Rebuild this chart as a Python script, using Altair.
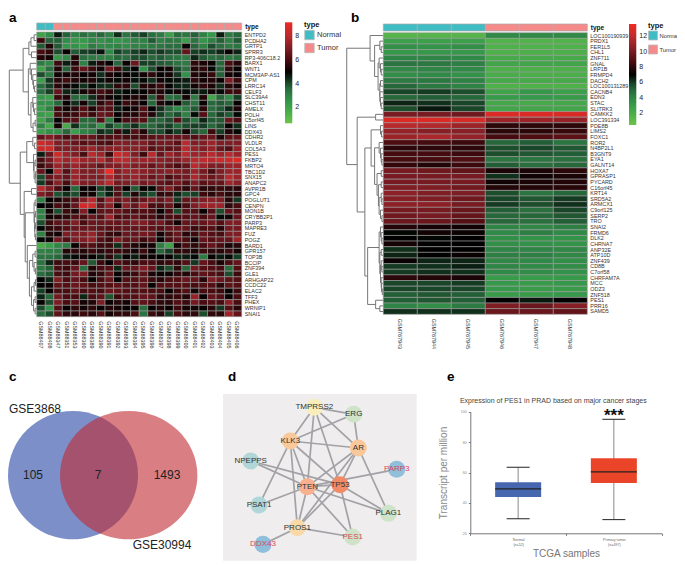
import altair as alt
import pandas as pd

W, H = 669, 553
FONT = "Liberation Sans"
HEAT_FRACTIONS = [0, 0.2, 0.44, 0.67, 0.84, 1]
HEAT_GREENS = ["#6fc34a", "#4db04a", "#33964a", "#2a6f3f", "#163f24", "#000000"]
HEAT_REDS = ["#4a0c10", "#7f1d24", "#b82a2e", "#ee2b24"]
RED_FRACTIONS = [0.26, 0.49, 0.72, 1]

# ---------- panel a ----------
genes_a = ["ENTPD2","PCDHA2","GRTP1","SPRR3","RP3-406C18.2","BARX1","WNT1","MCM3AP-AS1","CPM","LRRC14","CELF3","SLC39A4","CHST11","AMELX","POLH","C5orf45","LINS","DDX43","CDHR2","VLDLR","COL5A3","PES1","FKBP2","MRTO4","TBC1D2","SNX15","ANAPC2","AVPR1B","GPC4","POGLUT1","CENPN","MON1B","CRYBB2P1","PARP3","MAPRE3","FUZ","POGZ","BARD1","GPR157","TOP3B","BCCIP","ZNF394","GLE1","ARHGAP22","CCDC22","ELAC2","TFF3","PHEX","WRNIP1","SNAI1"]
samples_a = ["GSM88407","GSM88408","GSM88347","GSM88351","GSM88353","GSM88360","GSM88389","GSM88390","GSM88391","GSM88392","GSM88393","GSM88394","GSM88395","GSM88396","GSM88397","GSM88398","GSM88399","GSM88400","GSM88401","GSM88402","GSM88403","GSM88404","GSM88405","GSM88406"]
types_a = ["Normal"]*2 + ["Tumor"]*22
values_a = [
[2,2.7,4.6,3.7,3,3.5,3.2,3.6,3,4.4,3.4,3.8,4.2,3.5,3.2,2.2,3.5,3.3,3.7,3,2.4,4.6,3.2,3.6],
[5.8,3.7,3.7,2.7,2.4,2.4,2.8,2.6,2.8,2.5,2.6,3,3,3.8,3,3.3,3.2,2.2,3.4,2.5,3,3.7,3,3.8],
[3.8,5.4,3.8,2.5,2.6,2.2,3.2,2.8,2.8,3,2.7,3,3,3.2,3.3,3.5,3.5,5,3.6,3,4,3.5,3.2,3.4],
[6,5.6,4,5,3.8,4.2,4.3,4.7,2.8,4.2,3.8,4.2,4.5,4,4.3,4,4,6.5,4.2,4.4,4.2,4.5,5,4.5],
[5.4,5.2,2.4,2.8,5.4,3.5,3.2,3,3,3.6,3.5,4,4,3.6,3.8,3.5,3.3,3.2,4.5,3.8,3.5,3.6,3.2,3.5],
[3.2,2.8,5.8,4.6,5.4,3,4.6,5.4,4.9,3.6,5,6.6,4.2,4.2,3.8,3.7,3.4,3.2,5.6,5.3,5,3.6,6,5.4],
[2,3.5,5.4,3.7,5.8,6.5,5.8,5.2,6.8,5.8,4.5,4.9,2.6,4,5,5.2,4,3.5,5.4,5.6,4.8,3.7,5.6,5],
[4,3.2,5.2,5.2,5.4,5,5.2,4.4,5.3,5,5,4.8,5.2,5.6,5,5.2,4.3,2.6,5.4,5.2,5.7,3.7,5.2,5],
[2.2,4.3,5.5,5.9,5.4,5.2,5.4,4.7,5.2,4.8,5.2,4.7,4.8,4.4,5.2,4.8,4.7,4.6,5.6,5.2,5.4,5,7,5.8],
[3.5,4.2,5.5,5.2,4.8,4.4,4.8,4.4,4.4,5.6,5.6,4,5.4,5.4,5.8,5,4.5,4.5,5.2,5.6,5.3,4.4,5.5,5.2],
[3.5,4.2,6.5,4.5,4.6,5.2,5.5,6,5.6,4.6,4.8,4.8,4.9,5.4,5.4,4.8,5.2,4.8,4.6,4.6,5.2,4.8,5.8,5.8],
[2.4,2.2,5.8,5.4,3.6,3.5,4.4,5.6,5.2,4.8,5.2,5.4,5.2,3.8,5.8,3.5,3.6,5.2,3.2,5.4,1.9,3.6,2.7,4.2],
[2.6,2.6,3.6,5,4.4,5.2,4.2,5.6,6.2,4.8,5.8,5.5,5,3.6,5.4,4.8,5,3.8,3.4,5,3.6,3.8,3.6,5],
[2.2,3,5.8,5.2,5.6,6.2,5.4,6.2,6.2,4.6,5,5.2,6.2,4.9,4.4,3.6,2.8,3.2,3.8,5.5,3.5,3.8,4.5,5.3],
[2.3,2,6,5.6,5.8,6.3,5.8,6.6,6.4,5,5.4,5.4,6,5.4,4.2,3.6,4,3,4.8,6.2,3.6,4.2,3.8,4.8],
[2,3.2,5,6.2,6.2,3.6,3.6,6.2,3.2,5,6,6.2,6.2,3.8,3.6,4,6.2,4,3.4,4.5,3.8,3.8,6.6,6],
[3,1.8,5.2,1.7,4.4,3.3,3.6,2.4,4.2,3.4,3.8,4.4,3.6,3.6,4,4.2,3.6,4,4.2,4.2,3.6,4,5,4.4],
[2.2,2.6,2.6,3.6,2.2,3,3.2,4.4,4.2,5.8,4.6,6.2,5.4,4,4,4.6,4.2,5.2,4,3.6,5.8,4.2,5.4,4.8],
[6.5,7,6.6,6,6.5,6.5,6.5,6,6.1,6.3,6,6,6,6.3,6.5,6.5,6.5,6.5,6.2,6.5,6.6,5.4,6.4,6.5],
[8.5,8,7,7,6.5,6.2,6.5,6.2,6,7,7,7,7,6.5,6.8,6.8,6.3,8,7,7,7.5,7,7,7],
[8.5,8.5,7,7,7,7,7.5,7,7.2,7.2,7.2,7.2,7,6.2,6.6,6.4,6.6,8,7.4,7,7.4,6.6,6.2,7.4],
[4.6,6.6,8.5,7.5,7,6,8,7.5,5.8,8.5,8,7,5.8,8,6.5,7.5,7,8,7.5,7.5,8,7.5,8,7.5],
[6,6.8,8,7.5,8,7.5,7.5,8,7,8,8,7.5,7.5,7.5,7.2,7,7,7.5,8,8.2,8,8.4,8.5,8.8],
[5.8,6.4,7.5,7,7.5,7,7,6.5,7,7,7.5,7,7,6.5,7,6.5,6,6.5,8,7.5,7,7,7.5,7.5],
[6.5,4.9,7.8,6.2,7.5,7,7,7.5,9.2,7,7.5,7.5,7.2,7,7,7.2,7,6.8,7.5,6.8,6,7,7.5,7.5],
[4,6.5,7,6.5,7.5,7,7,7,7.8,7,7.2,7.5,7,6.5,7,6,6.5,6.8,7.8,7,6.6,7,8,7.5],
[4.3,6,7.2,6,7.5,7,7,7.5,8,6.8,7,7.2,6.8,7,6.5,6.2,6.8,6.2,7,6.3,6.5,6.5,7.6,7.2],
[8,7,6,5,3.6,5,5,4.2,4.6,6.2,5,3.8,5,4.8,6.4,7,6,5.6,6.5,5.5,5.6,5.8,5.6,5.5],
[7,6.5,3.9,4.4,4,5.2,5.2,3.8,4.6,6.2,4.2,5.4,4.4,4,5.6,5.8,4.5,4,4.2,5.8,5.5,6,5.5,5.5],
[3,5,5.3,5.8,6.2,7,8,6.2,7.5,6.5,7,6.2,6.5,7,6.5,7,4.3,6.5,6.8,7,7.2,7,5.5,4.3],
[4.9,5.1,6,5.6,6.5,8.5,8.5,6.5,7.2,5.2,7.2,6.5,7.5,6,6,6.5,5.2,6,7,7.5,7.5,7.5,5.6,6],
[3,5.2,4,5.8,5.4,7,5,6.4,6.5,6.5,6.2,6,6.2,6,5,6,4,6.2,6.2,5,6.2,4,6.5,6.2],
[3,5.2,5.4,5.6,6.2,6,6.6,6.2,7.5,6,6.2,6.5,6,6,5.5,6,6,6.2,6.5,6,6.5,4.8,5.2,6.5],
[4,5.8,6.4,6.4,7,6,6.6,6.6,6.6,6.5,6.6,7,7,6.5,6.8,6,5.2,6.5,6.5,6.5,6.8,6.2,7,7],
[4.8,5.6,5.8,6.2,6.6,6.5,6.6,6.4,6.2,6.4,6.5,6.5,6.5,6.4,6.2,6.5,6.5,6.5,5.8,6,6.2,5.5,6.8,6.8],
[3,5.4,5.2,7,7,7,7.4,6.5,5.8,5.6,6.6,6.5,6.8,6.6,5.2,6,6.6,5.5,5.8,6.5,6.2,6,7,7],
[4.8,5,6.8,6.2,7,7,7.4,6.2,5.8,7,6.4,6.5,5.8,6.2,5,6,6.4,6,5.2,6.5,6.2,6.5,6.5,7.5],
[1.6,2.2,2.9,3.2,5,6.2,6.2,5.8,5.8,4.4,6,5.4,5.2,5.2,3.2,2,5.2,6,5.6,6,6.5,6,5.3,5.5],
[3,3.1,3.2,5.4,5.6,5.4,5.8,5.5,5.7,5.8,5.6,5.2,5.8,5,3.6,4.2,5.6,5.6,5.3,5.8,5.6,5.5,5.8,5.2],
[3.4,3.4,3.6,4.6,4.8,5.2,5,4.6,5.6,4.3,5,4.6,5.2,5,4.9,5,4.5,4.6,4.8,3.2,5,4.6,4.8,4.2],
[3.4,4.5,5.8,6,5.8,6.5,3.8,5.8,5,6.2,5.8,5.6,6,6,5.6,5.8,5.6,6.2,4.3,6.5,6,5.3,6,6.5],
[3.2,3.7,6,5.8,6.5,3.5,5.4,6,6.2,4.5,6.5,6.5,7,6.5,4.5,4,5.6,3.6,6.8,6.2,6.2,6,3.5,6.2],
[3.5,3.8,6,5.8,6.8,7,5.4,5.7,6.5,5,5.5,5.8,6.4,5.3,5,5.1,5.6,5.4,6,6.4,6.2,6,4,5.8],
[4.9,4.5,7,6,6.5,6,5,6,6.6,4.9,6.2,6.2,6.4,5.8,5.5,6,6.2,6.6,6.5,5.5,7,6.6,6.4,6.2],
[4.9,5,6.4,6.2,6.6,6.4,6,6.2,6.2,6.4,6.2,6.2,6.5,5,6.2,6.2,6.2,6.2,6,6.2,6.2,5.5,6.4,6.2],
[4.2,5,6,6,6.4,6,6.2,6,6.6,6.4,6.2,6.2,6.2,6,6,5,5.8,6.2,5.2,6,6,5.8,5,5.8],
[4.5,3.6,6.8,6,6,4.5,6,6.4,3.9,5.8,6.2,6.2,6.5,6.4,5.6,5.6,5.8,5.4,7.4,5,6.5,6.2,5,6],
[5,4,7,6,6.2,5.2,5.4,7,5,5.5,5.2,6.2,6.4,6,5.6,5.5,6.2,5.8,6.8,6,6.2,6,7.2,6],
[4,2.6,6.2,5,5.6,5.2,5.6,5,5.4,5.2,5,5,3.5,5,5.4,5,5.8,5.2,5.2,5,5.5,4.3,6.2,5.5],
[3.5,4,6.4,5.6,5.5,5.8,5.5,6.2,5.2,5.6,5.6,6,3.4,5.8,5.5,4.2,6,5.6,5.6,4,5.6,5.5,7.5,6.5],
]
tree_a = [105,
  [52,
    [30,[22,[10,0,1],2],[20,3,4]],
    [32,[25,5,[20,6,[15,7,[12,8,[8,9,10]]]]],
        [22,[15,11,[12,12,[8,13,14]]],[14,[6,15,16],17]]]],
  [63,
    [38,[15,18,[8,19,20]],[12,21,[10,[6,22,23],[6,[4,24,25],26]]]],
    [48,[20,27,28],
        [44,[10,[6,29,30],[8,[5,31,32],[7,[4,33,34],[5,35,36]]]],
            [36,37,[28,[15,[6,38,39],[10,40,[5,41,42]]],
                       [20,[10,[5,43,44],45],[12,[6,46,47],[6,48,49]]]]]]]]]

# ---------- panel b ----------
genes_b = ["LOC100190939","PRDX1","FER1L5","CHL1","ZNF711","GNAL","LRP1B","FRMPD4","DACH2","LOC100131289","CACNB4","EDN3","STAC","SLITRK3","CAMKK2","LOC391334","PDE8B","LIMS2","FOXC1","ROR2","N4BP2L1","B3GNT9","EYA1","GALNT14","HOXA7","GPRASP1","PYCARD","C16orf45","KRT14","SRD5A2","ARMCX1","C9orf125","SERP2","TRO","SNAI2","FRMD6","DLK2","CHRNA7","ANP32E","ATP10D","ZNF439","CD8B","C7orf58","CHRFAM7A","MCC","ODZ3","ZNF518","PES1","PRR16","SAMD5"]
samples_b = ["GSM767943","GSM767944","GSM767945","GSM767946","GSM767947","GSM767948"]
types_b = ["Normal"]*3 + ["Tumor"]*3
values_b = [
[1.5,1.5,1.5,3.8,3.8,3.8],[2.8,2.8,2.8,1.6,1.6,1.6],[3.6,3.4,3.6,1.7,1.7,1.7],[3.2,3.2,3.2,1.7,1.8,1.8],
[4,4,3.8,2.2,2.2,2.2],[4.6,4.5,4.2,2.4,2.4,2.4],[3.9,4,3.8,1.8,1.8,1.8],[3.6,3.8,3.5,2,1.9,1.9],
[4.4,4.5,4.1,2.1,2.1,2.1],[5,4.5,4.1,1.7,1.7,1.7],[5.8,6,5.6,2.5,3.2,2.8],[5,5.2,5,3,3.2,3],
[6.4,6.2,5.8,2.3,2.2,2.3],[5.6,6.6,5.8,2.4,2.4,2.4],[10,10,9.8,13,13,12.8],[13,13,12.8,11,11,10.8],
[11.8,11.6,11,8,8,8],[10.8,10.5,10.5,8,8,8.3],[11,11.4,10.8,8.6,8.8,9.2],[8.8,8.6,8.4,5,5.2,4.6],
[8,8,8,5.6,5.8,5.4],[8.6,8.6,8.4,5.6,5.4,5.2],[8.6,8.6,8.8,4.6,4.6,4.8],[8.2,7.8,8.4,5.2,4.8,5],
[10,9.8,9.4,7.6,7.6,8],[10,10,10,6.2,7.4,7.6],[10,10,10,7.4,7.6,7.8],[10.2,10.2,9.8,7.8,7.8,7.9],
[10.6,10.3,10.2,5.6,4.6,5],[10.4,10.2,9.8,5.8,5.4,6],[10.6,10.6,10,6,5.6,6.2],[10,10,9.6,5.2,4.8,5.8],
[9.8,10,9.5,5,5,5.4],[9.6,9.6,9,5,4.8,5.2],[7.8,7.5,7.4,4,3.9,4.2],[6.9,7.4,7.2,3.8,4.2,3.8],
[7,6.9,7,3.6,3.4,3.4],[7.5,7,7,3.6,3.5,3.4],[6.2,7,7,4,4,3.9],[6.4,7,7.2,4.2,4.2,3.9],
[7.2,6.4,6.4,3.9,3.8,3.6],[6,6.2,6.5,4,3.8,3.7],[6,6.2,6.2,3.8,3.7,3.5],[8,7.8,7.6,3,3,3.1],
[5.8,5.8,6,3.2,3,3.2],[5.8,5.8,5.8,3.2,3,3],[5.2,5.4,5.2,3,3,3.2],[5.2,5.4,5.2,7,6.6,7],
[4,3.6,4.4,10.2,9.6,10.4],[6.2,6.2,6.2,9.6,9.6,9.4],
]
tree_b = [105,
  [38,0,[25,[10,1,[6,2,3]],[15,[12,4,[8,5,[6,6,7]]],[10,[8,8,9],[10,10,[8,11,[6,12,13]]]]]]],
  [75,[22,14,15],
    [53,
      [35,[8,16,[5,17,18]],
          [25,[12,19,[8,20,[6,21,[4,22,23]]]],
              [18,[6,24,25],[14,[6,26,27],[12,[6,28,[4,29,30]],[8,31,[4,32,33]]]]]]],
      [45,[12,[8,34,[6,35,[4,36,37]]],
              [10,[6,38,39],[8,[6,40,[4,41,42]],[6,43,[5,44,[3,45,46]]]]]],
          [22,47,[10,48,49]]]]]]

# ---------- panel c ----------
venn_sets = ["GSE3868","GSE30994"]
venn_cx = [73,128.7]
venn_colors = ["#4460b0","#c02a30"]
venn_sizes = [130.0,137.3]
venn_shapes = ["M-1,0A1,0.987,0,1,1,1,0A1,0.987,0,1,1,-1,0Z","M-1,0A1,0.934,0,1,1,1,0A1,0.934,0,1,1,-1,0Z"]
venn_opacity = [0.7,0.6]
venn_text = ["GSE3868","105","7","1493","GSE30994"]
venn_text_x = [35,33,98,167,162]
venn_text_y = [48.5,115,114.5,115,185]

# ---------- panel d ----------
node_names = ["TMPRSS2","ERG","KLK3","AR","NPEPPS","PARP3","PTEN","TP53","PSAT1","PLAG1","PROS1","PES1","DDX43"]
node_x = [298,416,226,430,107,545,277,375,132,520,247,413,144]
node_y = [112,133,213,234,273,298,350,344,405,430,473,501,523]
node_colors = ["#f9eebb","#cfe3c8","#f9c999","#f9c89a","#b0d6d8","#90bfdc","#f8b08e","#f38a66","#b0d6d8","#cfe3c8","#f9d9a8","#cfe3c8","#90bfdc"]
node_text = ["#333333","#333333","#333333","#333333","#333333","#d9455f","#333333","#333333","#333333","#333333","#333333","#d9455f","#d9455f"]
edges = [("TMPRSS2","ERG"),("TMPRSS2","KLK3"),("TMPRSS2","AR"),("TMPRSS2","PTEN"),("TMPRSS2","TP53"),
 ("ERG","KLK3"),("ERG","AR"),("KLK3","AR"),("KLK3","PTEN"),("KLK3","TP53"),("KLK3","PROS1"),("KLK3","PSAT1"),
 ("AR","PTEN"),("AR","TP53"),("AR","PROS1"),("AR","PLAG1"),("NPEPPS","PTEN"),("NPEPPS","TP53"),("PARP3","PTEN"),
 ("PTEN","TP53"),("PTEN","PSAT1"),("PTEN","PROS1"),("PTEN","PLAG1"),("PTEN","PES1"),("TP53","PLAG1"),("TP53","PES1"),
 ("TP53","PROS1"),("PROS1","PES1"),("PROS1","DDX43")]

# ---------- panel e ----------
box_cat = ["Normal|(n=52)","Primary tumor|(n=497)"]
box_low = [29.6,29]
box_q1 = [43.9,53.1]
box_med = [49.2,60.4]
box_q3 = [53.6,69.3]
box_high = [63.4,95]
box_col = ["#4766b0","#ea4528"]

panel_letters = ["a","b","c","d","e"]
letter_x = [9,351,9,228,447]
letter_y = [22,22,381,381,381]

def X(a, b, domain, **kw):
    return alt.Scale(domain=domain, range=[a-8, b-8], **kw)

def tree_frame(tree):
    rows = []
    def walk(n):
        if isinstance(n, int):
            return n+0.5, 0
        h, a, b = n
        ya, ha = walk(a)
        yb, hb = walk(b)
        rows.append(dict(x=h, x2=h, y=ya, y2=yb))
        rows.append(dict(x=ha, x2=h, y=ya, y2=ya))
        rows.append(dict(x=hb, x2=h, y=yb, y2=yb))
        return (ya+yb)/2, h
    walk(tree)
    return pd.DataFrame(rows)

def heat_scale(lo, mid, hi):
    dom = [lo+(mid-lo)*f for f in HEAT_FRACTIONS] + [mid+(hi-mid)*f for f in RED_FRACTIONS]
    return alt.Scale(domain=dom, range=HEAT_GREENS+HEAT_REDS, interpolate="rgb")

def heat_panel(genes, samples, types, values, tree, xa, xb, ya, yb, ann0, ann1, dend_left,
               cdom, lgx, lgy, lglen, lgvals, tpx, tpy, tsym, tfont, toff):
    for r in values:
        assert len(r) == len(samples), (len(r), r)
    assert len(genes) == len(values)
    long = pd.DataFrame([dict(gene=g, sample=s, v=v) for g, row in zip(genes, values)
                         for s, v in zip(samples, row)])
    xs = lambda: X(xa, xb, samples, paddingInner=0, paddingOuter=0)
    ys = X(ya, yb, genes, paddingInner=0, paddingOuter=0)
    heat = alt.Chart(long).mark_rect(stroke="#9a9a9a", strokeWidth=0.6).encode(
        x=alt.X("sample:N", sort=None, scale=xs(),
                axis=alt.Axis(title=None, orient="bottom", offset=-(H-(yb-8))+1, labelAngle=90, labelAlign="left",
                              labelBaseline="middle", labelFontSize=5.4, labelColor="#333", ticks=False, domain=False,
                              labelPadding=3, labelOverlap=False, grid=False)),
        y=alt.Y("gene:N", sort=None, scale=ys,
                axis=alt.Axis(title=None, orient="right", offset=-(W-(xb-8))+1, labelFontSize=5.4, labelColor="#333",
                              ticks=False, domain=False, labelPadding=1.5, labelOverlap=False, grid=False)),
        color=alt.Color("v:Q", scale=heat_scale(*cdom),
                        legend=alt.Legend(title=None, orient="none", legendX=lgx-8, legendY=lgy-8, gradientLength=lglen,
                                          gradientThickness=7.3, values=lgvals, labelFontSize=7, labelColor="#222",
                                          gradientStrokeWidth=0, tickCount=len(lgvals), labelOffset=3)),
    )
    ann = pd.DataFrame(dict(sample=samples, type=types, row=["type"]*len(samples)))
    annot = alt.Chart(ann).mark_rect(stroke="#aaaaaa", strokeWidth=0.7).encode(
        x=alt.X("sample:N", sort=None, scale=xs(), axis=None),
        y=alt.Y("row:N", scale=X(ann0, ann1, ["type"], paddingInner=0, paddingOuter=0),
                axis=alt.Axis(title=None, orient="right", offset=-(W-(xb-8))+1, labelFontSize=6.5, labelFontWeight="bold",
                              labelColor="#111", ticks=False, domain=False, labelPadding=2, grid=False)),
        color=alt.Color("type:N", scale=alt.Scale(domain=["Normal","Tumor"], range=["#3fbcc4","#f58a8a"]),
                        legend=alt.Legend(title="type", orient="none", legendX=tpx-8, legendY=tpy-8, symbolType="square",
                                          symbolSize=tsym, symbolStrokeColor="#bbbbbb", symbolStrokeWidth=0.8,
                                          titleFontSize=7.5, titleFontWeight="bold", titleColor="#111", labelFontSize=tfont,
                                          labelColor="#333", rowPadding=0, titlePadding=1, labelOffset=toff, padding=0)),
    )
    seg = tree_frame(tree)
    dend = alt.Chart(seg).mark_rule(color="#777777", strokeWidth=1).encode(
        x=alt.X("x:Q", scale=X(xa, dend_left, [0, 110]), axis=None),
        x2="x2:Q",
        y=alt.Y("y:Q", scale=X(ya, yb, [0, len(genes)]), axis=None),
        y2="y2:Q",
    )
    return [dend, heat, annot]

layers = []
layers += heat_panel(genes_a, samples_a, types_a, values_a, tree_a, 36.7, 241.7, 32, 316.7, 23, 30, 8,
                     [0.63, 4.9, 9.2], 285, 22.3, 101, [2,4,6,8], 304, 21, 90, 7.5, 2)
layers += heat_panel(genes_b, samples_b, types_b, values_b, tree_b, 383.3, 587.3, 32.7, 314.3, 24, 31, 345,
                     [0.44, 7, 13.6], 629, 24, 101, [2,4,6,8,10,12], 648, 22, 81, 5.8, 1.5)

# panel c
sx = X(0, 198, [0, 198])
sy = X(360, 560, [0, 200])
venn = pd.DataFrame(dict(name=venn_sets, cx=venn_cx, cy=[115.2, 115.2], color=venn_colors))
for i in range(2):
    layers.append(alt.Chart(venn.iloc[[i]]).mark_point(shape=venn_shapes[i], size=venn_sizes[i]**2, filled=True,
                                                      opacity=venn_opacity[i], color=venn_colors[i]).encode(
        x=alt.X("cx:Q", scale=sx, axis=None), y=alt.Y("cy:Q", scale=sy, axis=None)))
vt = pd.DataFrame(dict(t=venn_text, x=venn_text_x, y=venn_text_y))
layers.append(alt.Chart(vt).mark_text(fontSize=12, color="#222222").encode(
    x=alt.X("x:Q", scale=sx, axis=None), y=alt.Y("y:Q", scale=sy, axis=None), text="t:N"))

# panel d
dx = X(223, 416.7, [24, 605])
dy = X(394, 560.7, [72, 572])
bg = pd.DataFrame(dict(x=[24], x2=[605], y=[72], y2=[572]))
layers.append(alt.Chart(bg).mark_rect(color="#efedee").encode(
    x=alt.X("x:Q", scale=dx, axis=None), x2="x2:Q", y=alt.Y("y:Q", scale=dy, axis=None), y2="y2:Q"))
pos = {n: (a, b) for n, a, b in zip(node_names, node_x, node_y)}
edf = pd.DataFrame([dict(x=pos[a][0], y=pos[a][1], x2=pos[b][0], y2=pos[b][1]) for a, b in edges])
layers.append(alt.Chart(edf).mark_rule(color="#a2a2a6", strokeWidth=1.7).encode(
    x=alt.X("x:Q", scale=dx, axis=None), x2="x2:Q", y=alt.Y("y:Q", scale=dy, axis=None), y2="y2:Q"))
ndf = pd.DataFrame(dict(name=node_names, x=node_x, y=node_y, fill=node_colors, txt=node_text))
layers.append(alt.Chart(ndf).mark_point(filled=True, size=290, opacity=1).encode(
    x=alt.X("x:Q", scale=dx, axis=None), y=alt.Y("y:Q", scale=dy, axis=None),
    color=alt.Color("fill:N", scale=None)))
layers.append(alt.Chart(ndf).mark_text(fontSize=8).encode(
    x=alt.X("x:Q", scale=dx, axis=None), y=alt.Y("y:Q", scale=dy, axis=None),
    text="name:N", color=alt.Color("txt:N", scale=None)))

# panel e
box = pd.DataFrame(dict(cat=box_cat, low=box_low, q1=box_q1, med=box_med, q3=box_q3, high=box_high, col=box_col))
bx = lambda: X(470.3, 661.7, box_cat, paddingInner=0, paddingOuter=0)
by = lambda: X(533.3, 411.7, [20, 100])
bxn = lambda: alt.X("cat:N", sort=None, scale=bx(), axis=None)
layers.append(alt.Chart(box).mark_rule(color="#8a8a8a", strokeWidth=1).encode(
    x=bxn(), y=alt.Y("low:Q", scale=by(), axis=None), y2="high:Q"))
layers.append(alt.Chart(box).mark_bar(size=46).encode(
    x=alt.X("cat:N", sort=None, scale=bx(),
            axis=alt.Axis(title="TCGA samples", titleFontSize=10, titleFontWeight="normal", titleColor="#777", orient="bottom",
                          offset=-(H-(533.3-8)), labelExpr="split(datum.label,'|')", labelFontSize=3.6, labelColor="#666",
                          labelAngle=0, tickBand="extent", tickSize=2, tickColor="#777", domainColor="#777",
                          labelPadding=2, titlePadding=2, grid=False)),
    y=alt.Y("q1:Q", scale=by(),
            axis=alt.Axis(title="Transcript per million", titleFontSize=10, titleFontWeight="normal", titleColor="#888",
                          orient="left", offset=-(470.3-8), values=[20,40,60,80,100], labelFontSize=3.6, labelColor="#888",
                          tickSize=2, tickColor="#777", domainColor="#777", labelPadding=2, titlePadding=12, grid=False)),
    y2="q3:Q", color=alt.Color("col:N", scale=None)))
for f, s, w in [("med", 46, 1.3), ("low", 23, 1), ("high", 23, 1)]:
    layers.append(alt.Chart(box).mark_tick(size=s, thickness=w, color="#222222", opacity=1).encode(
        x=bxn(), y=alt.Y(f"{f}:Q", scale=by(), axis=None)))
stars = pd.DataFrame(dict(cat=[box_cat[1]], y=[97], t=["***"]))
layers.append(alt.Chart(stars).mark_text(fontSize=17, fontWeight="bold", color="#111111").encode(
    x=bxn(), y=alt.Y("y:Q", scale=by(), axis=None), text="t:N"))
title_e = pd.DataFrame(dict(x=[553.3], y=[400.7], t=["Expression of PES1 in PRAD based on major cancer stages"]))
layers.append(alt.Chart(title_e).mark_text(fontSize=7, color="#444444").encode(
    x=alt.X("x:Q", scale=X(0, W+8, [0, W+8]), axis=None),
    y=alt.Y("y:Q", scale=X(0, H+8, [0, H+8]), axis=None), text="t:N"))

# panel letters
ld = pd.DataFrame(dict(t=panel_letters, x=letter_x, y=letter_y))
layers.append(alt.Chart(ld).mark_text(fontSize=13.5, fontWeight="bold", color="#000000", align="left", baseline="alphabetic").encode(
    x=alt.X("x:Q", scale=X(0, W+8, [0, W+8]), axis=None),
    y=alt.Y("y:Q", scale=X(0, H+8, [0, H+8]), axis=None), text="t:N"))

chart = alt.layer(*layers).resolve_scale(x="independent", y="independent", color="independent").properties(
    width=W, height=H, padding=0, autosize=alt.AutoSizeParams(type="none"), background="#ffffff"
).configure(font=FONT).configure_view(stroke=None)

chart.save("out.html", embed_options={"renderer": "svg", "actions": False})
